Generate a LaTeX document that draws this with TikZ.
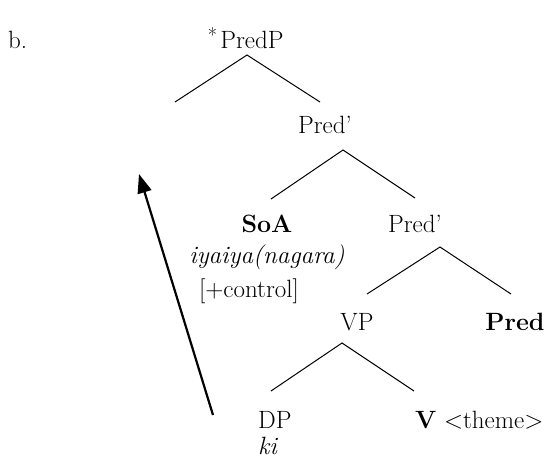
\documentclass[tikz,border=0pt]{standalone}
\usepackage{fontspec}
\usetikzlibrary{arrows.meta}
\tikzset{
  lab/.style={inner sep=0pt, anchor=base, font=\fontsize{25}{30}\selectfont},
  branch/.style={line width=1pt, black},
  move/.style={line width=2.2pt, -{Triangle[length=19pt,width=14pt]}}
}
\begin{document}
\begin{tikzpicture}[x=1pt,y=-1pt]
\useasboundingbox (0,0) rectangle (548,461);
% labels
\node[lab, anchor=base west] (ex) at (8,48) {b.};
\node[lab] (predP) at (252,48) {PredP};
\node[lab, anchor=base east, font=\fontsize{20}{22}\selectfont] (star) at (predP.base west) [yshift=6pt, xshift=-3pt] {*};
\node[lab] (predbar1) at (325,133) {Pred'};
\node[lab] (soa) at (267,232) {\textbf{SoA}};
\node[lab] (iyaiya) at (267,263) {\itshape iyaiya(nagara)};
\node[lab] (control) at (249,297) {[+control]};
\node[lab] (predbar2) at (415,232) {Pred'};
\node[lab] (vp) at (357,330) {VP};
\node[lab] (pred) at (515,330) {\textbf{Pred}};
\node[lab, anchor=base west] (dp) at (258,428) {DP};
\node[lab, anchor=base west] (ki) at (258,454) {\itshape ki};
\node[lab, anchor=base west] (v) at (415,428) {\textbf{V} <theme>};
% branch points
\coordinate (a1) at (247,55);
\coordinate (a1l) at (175,102);
\coordinate (a1r) at (320,102);
\coordinate (a2) at (343,150);
\coordinate (a2l) at (271,199);
\coordinate (a2r) at (415,198);
\coordinate (a3) at (440,247);
\coordinate (a3l) at (367,294);
\coordinate (a3r) at (511,294);
\coordinate (a4) at (342,343);
\coordinate (a4l) at (271,391);
\coordinate (a4r) at (414,391);
\draw[branch] (a1l) -- (a1) -- (a1r);
\draw[branch] (a2l) -- (a2) -- (a2r);
\draw[branch] (a3l) -- (a3) -- (a3r);
\draw[branch] (a4l) -- (a4) -- (a4r);
% movement arrow
\coordinate (mvs) at (213,415);
\coordinate (mve) at (139,174);
\draw[move] (mvs) -- (mve);
\end{tikzpicture}
\end{document}
